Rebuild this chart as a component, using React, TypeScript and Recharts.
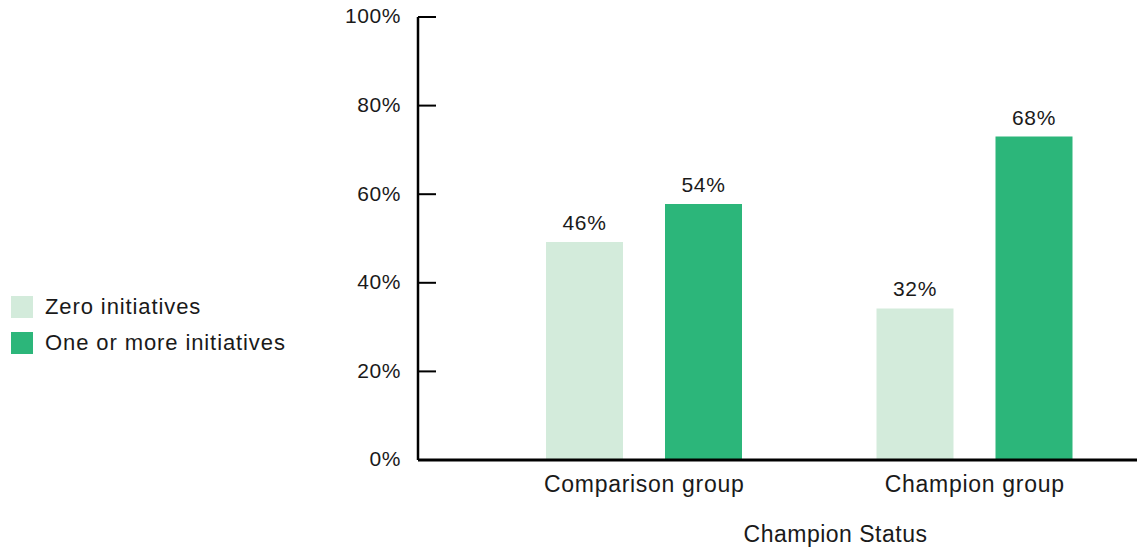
import { BarChart, Bar, XAxis, YAxis, Legend, LabelList } from "recharts";

const groups = ["Comparison group", "Champion group"];
// bar heights
const zeroValues = [49.2, 34.2];
const oneOrMoreValues = [57.8, 73.0];
// printed labels above the bars
const zeroLabels = ["46%", "32%"];
const oneOrMoreLabels = ["54%", "68%"];
const yTicks = [0, 20, 40, 60, 80, 100];

const series = [
  { key: "zero", name: "Zero initiatives", color: "#d3ebdb", labels: zeroLabels },
  { key: "more", name: "One or more initiatives", color: "#2cb67a", labels: oneOrMoreLabels },
];

const data = groups.map((g, i) => ({
  group: g,
  zero: zeroValues[i],
  more: oneOrMoreValues[i],
}));

const FONT = "'Liberation Sans', Arial, Helvetica, sans-serif";
const TICK_GAP = 17;
const TICK_LEN = 18;

function YTick(props: any) {
  const { x, y, payload } = props;
  const axisX = x + TICK_GAP;
  return (
    <g>
      <line x1={axisX} x2={axisX + TICK_LEN} y1={y} y2={y} stroke="#000" strokeWidth={2} />
      <text
        x={x}
        y={y}
        dy="0.3em"
        textAnchor="end"
        fontSize={21}
        letterSpacing={0.6}
        fill="#1a1a1a"
        fontFamily={FONT}
      >
        {payload.value}%
      </text>
    </g>
  );
}

function LegendContent() {
  return (
    <div style={{ fontFamily: FONT }}>
      {series.map((s) => (
        <div key={s.key} style={{ display: "flex", alignItems: "center", height: 36 }}>
          <div style={{ width: 22, height: 22, background: s.color, marginRight: 12 }} />
          <span style={{ fontSize: 22, letterSpacing: 0.9, color: "#1a1a1a" }}>{s.name}</span>
        </div>
      ))}
    </div>
  );
}

function makeLabel(labels: string[]) {
  return (props: any) => {
    const { x, y, width, index } = props;
    return (
      <text
        x={x + width / 2}
        y={y - 12}
        textAnchor="middle"
        fontSize={21}
        letterSpacing={0.6}
        fill="#1a1a1a"
        fontFamily={FONT}
      >
        {labels[index]}
      </text>
    );
  };
}

export default function App() {
  return (
    <div style={{ position: "absolute", left: 0, top: 0, width: 1137, height: 548, background: "#fff" }}>
      <BarChart
        width={1137}
        height={548}
        data={data}
        margin={{ top: 17, right: 0, bottom: 0, left: 0 }}
        barSize={77}
        barGap={42}
      >
        <XAxis
          dataKey="group"
          height={88}
          padding={{ left: 61, right: -3 }}
          axisLine={{ stroke: "#000", strokeWidth: 3 }}
          tickLine={false}
          tickSize={0}
          tickMargin={16}
          tick={{ fontSize: 23, letterSpacing: 0.7, fill: "#1a1a1a", fontFamily: FONT }}
          label={(p: any) => {
            const vb = p.viewBox;
            return (
              <text
                x={vb.x + vb.width / 2 + 58}
                y={vb.y + vb.height - 6}
                textAnchor="middle"
                fontSize={23}
                letterSpacing={0.5}
                fill="#1a1a1a"
                fontFamily={FONT}
              >
                Champion Status
              </text>
            );
          }}
        />
        <YAxis
          width={418}
          domain={[0, 100]}
          ticks={yTicks}
          interval={0}
          axisLine={{ stroke: "#000", strokeWidth: 2.5 }}
          tickLine={false}
          tickSize={0}
          tickMargin={TICK_GAP}
          tick={<YTick />}
        />
        <Legend
          layout="horizontal"
          align="center"
          verticalAlign="middle"
          content={<LegendContent />}
          wrapperStyle={{ left: 11, top: 289, width: 320, height: 72 }}
        />
        {series.map((s) => (
          <Bar key={s.key} dataKey={s.key} name={s.name} fill={s.color} isAnimationActive={false}>
            <LabelList dataKey={s.key} content={makeLabel(s.labels)} />
          </Bar>
        ))}
      </BarChart>
    </div>
  );
}
